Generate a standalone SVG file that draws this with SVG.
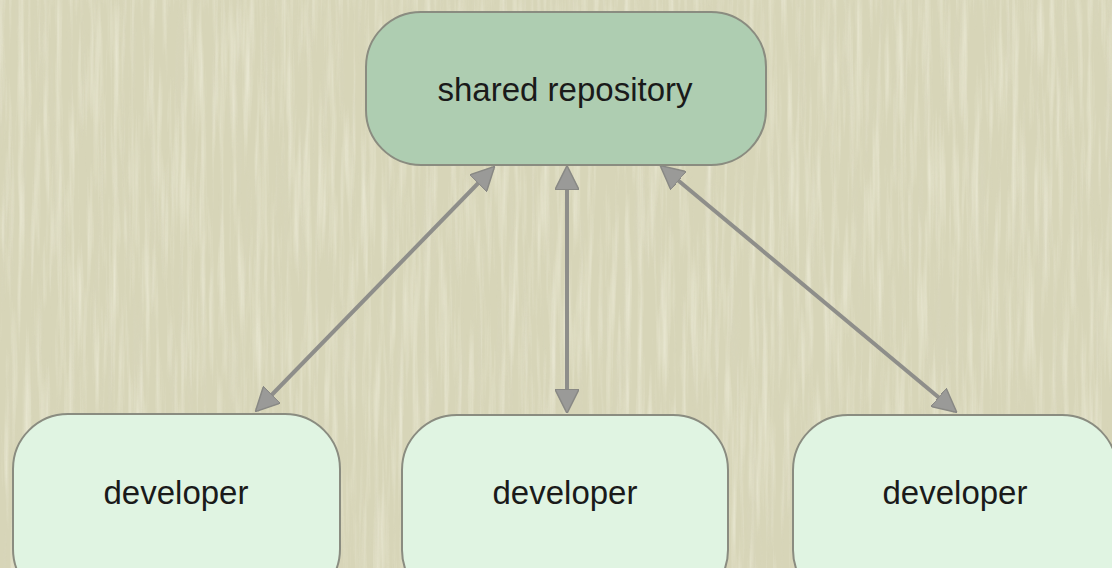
<svg xmlns="http://www.w3.org/2000/svg" width="1112" height="568" viewBox="0 0 1112 568">
  <defs>
    <style>
      .label { font-family: "Liberation Sans", Arial, sans-serif; font-size: 33px; fill: #1a1a1a; text-anchor: middle; }
      .repo { fill: #aecdb1; stroke: #8a8c80; stroke-width: 2; }
      .dev { fill: #e0f4e2; stroke: #8a8c80; stroke-width: 2; }
      .link { stroke: #8e8e8a; stroke-width: 4; fill: none; marker-start: url(#head); marker-end: url(#head); }
    </style>
    <marker id="head" viewBox="0 0 10 10" refX="9" refY="5" markerWidth="6" markerHeight="6" orient="auto-start-reverse" markerUnits="strokeWidth">
      <path d="M0,0 L10,5 L0,10 z" fill="#9a9a98" stroke="#888884" stroke-width="0.6"/>
    </marker>
    <!-- fine vertical paper grain: light and dark streaks -->
    <filter id="grainLight" x="0" y="0" width="100%" height="100%">
      <feTurbulence type="fractalNoise" baseFrequency="0.16 0.008" numOctaves="3" seed="4"/>
      <feColorMatrix type="matrix" values="0 0 0 0 0.93  0 0 0 0 0.92  0 0 0 0 0.80  1.4 0 0 0 -0.62"/>
    </filter>
    <filter id="grainDark" x="0" y="0" width="100%" height="100%">
      <feTurbulence type="fractalNoise" baseFrequency="0.14 0.007" numOctaves="2" seed="11"/>
      <feColorMatrix type="matrix" values="0 0 0 0 0.70  0 0 0 0 0.68  0 0 0 0 0.55  1.2 0 0 0 -0.62"/>
    </filter>
  </defs>

  <rect x="0" y="0" width="1112" height="568" fill="#d7d5b8"/>
  <rect x="0" y="0" width="1112" height="568" filter="url(#grainDark)" opacity="0.6"/>
  <rect x="0" y="0" width="1112" height="568" filter="url(#grainLight)" opacity="0.8"/>

  <g id="connectors">
    <line class="link" x1="493" y1="168" x2="257" y2="410"/>
    <line class="link" x1="567" y1="168" x2="567" y2="411"/>
    <line class="link" x1="662" y1="167" x2="955" y2="411"/>
  </g>

  <g id="shared-repository">
    <rect class="repo" x="366" y="12" width="400" height="153" rx="55" ry="55"/>
    <text class="label" x="565" y="101">shared repository</text>
  </g>

  <g id="developer-1">
    <rect class="dev" x="13" y="414" width="327" height="190" rx="55" ry="55"/>
    <text class="label" x="176" y="504">developer</text>
  </g>

  <g id="developer-2">
    <rect class="dev" x="402" y="415" width="326" height="190" rx="55" ry="55"/>
    <text class="label" x="565" y="504">developer</text>
  </g>

  <g id="developer-3">
    <rect class="dev" x="793" y="415" width="324" height="190" rx="55" ry="55"/>
    <text class="label" x="955" y="504">developer</text>
  </g>
</svg>
